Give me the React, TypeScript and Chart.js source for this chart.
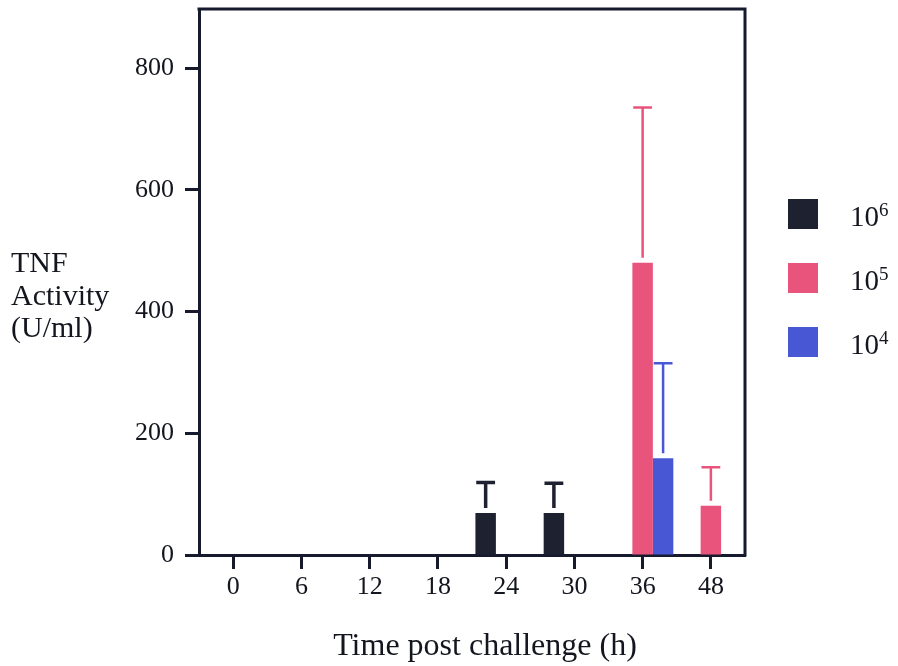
import React, { useEffect, useRef } from "react";
import { Chart, registerables } from "chart.js";

Chart.register(...registerables);

// Sampling times (h) after challenge
const hours = ["0", "6", "12", "18", "24", "30", "36", "48"];
const yTicks = [0, 200, 400, 600, 800];

// Challenge dose labels: 10^exp
const doseBase = ["10", "10", "10"];
const doseExp = ["6", "5", "4"];

// Mean TNF activity (U/ml) and SD per dose group
const dose6Mean = [null, null, null, null, 69, 69, null, null];
const dose6Sd = [null, null, null, null, 50, 49, null, null];
const dose5Mean = [null, null, null, null, null, null, 480, 81];
const dose5Sd = [null, null, null, null, null, null, 255, 63];
const dose4Mean = [null, null, null, null, null, null, 159, null];
const dose4Sd = [null, null, null, null, null, null, 156, null];

const doseColors = ["#1e212f", "#e8547b", "#4858d4"];
const errWidths = [3.5, 2.5, 2.5];

const AXIS = "#161a2c";
const TEXT = "#14161f";
const FONT = "'Liberation Serif', 'Times New Roman', serif";

const errorBars = {
  id: "errorBars",
  afterDatasetsDraw(chart: any) {
    const { ctx } = chart;
    const y = chart.scales.y;
    chart.data.datasets.forEach((ds: any, i: number) => {
      const meta = chart.getDatasetMeta(i);
      meta.data.forEach((bar: any, j: number) => {
        const v = ds.data[j];
        const sd = ds.sd[j];
        if (v == null || sd == null) return;
        const top = y.getPixelForValue(v + sd);
        const half = bar.width * 0.46;
        ctx.save();
        ctx.strokeStyle = ds.backgroundColor;
        ctx.lineWidth = ds.errWidth;
        ctx.beginPath();
        ctx.moveTo(bar.x, bar.y - 5);
        ctx.lineTo(bar.x, top);
        ctx.moveTo(bar.x - half, top);
        ctx.lineTo(bar.x + half, top);
        ctx.stroke();
        ctx.restore();
      });
    });
  },
};

const frameAndText = {
  id: "frameAndText",
  afterDraw(chart: any) {
    const { ctx, chartArea: a } = chart;
    ctx.save();
    // top and right edges of the plot frame
    ctx.strokeStyle = AXIS;
    ctx.lineWidth = 3;
    ctx.beginPath();
    ctx.moveTo(a.left - 1.5, a.top);
    ctx.lineTo(a.right, a.top);
    ctx.lineTo(a.right, a.bottom + 1.5);
    ctx.stroke();

    ctx.fillStyle = TEXT;
    ctx.textBaseline = "alphabetic";

    // y-axis title, stacked horizontally at the left
    ctx.font = `30px ${FONT}`;
    ctx.textAlign = "left";
    ["TNF", "Activity", "(U/ml)"].forEach((line, k) => {
      ctx.fillText(line, 11, a.top + 263 + k * 32.5);
    });

    // x-axis title
    ctx.font = `32px ${FONT}`;
    ctx.textAlign = "center";
    ctx.fillText("Time post challenge (h)", 485, 655);

    // legend
    const lx = a.right + 43;
    chart.data.datasets.forEach((ds: any, i: number) => {
      const top = a.top + 190 + i * 64;
      ctx.fillStyle = ds.backgroundColor;
      ctx.fillRect(lx, top, 30, 30);
      ctx.fillStyle = TEXT;
      ctx.textAlign = "left";
      ctx.font = `29px ${FONT}`;
      const base = doseBase[i];
      ctx.fillText(base, lx + 62, top + 27);
      const w = ctx.measureText(base).width;
      ctx.font = `19px ${FONT}`;
      ctx.fillText(doseExp[i], lx + 62 + w, top + 17);
    });
    ctx.restore();
  },
};

export default function App() {
  const canvasRef = useRef<HTMLCanvasElement>(null);

  useEffect(() => {
    document.body.style.margin = "0";
    const means = [dose6Mean, dose5Mean, dose4Mean];
    const sds = [dose6Sd, dose5Sd, dose4Sd];
    const chart = new Chart(canvasRef.current!, {
      type: "bar",
      data: {
        labels: hours,
        datasets: means.map((m, i) => ({
          label: doseBase[i] + "^" + doseExp[i],
          data: m,
          sd: sds[i],
          errWidth: errWidths[i],
          backgroundColor: doseColors[i],
          borderWidth: 0,
          categoryPercentage: 0.9,
          barPercentage: 1.0,
        })) as any,
      },
      options: {
        animation: false,
        responsive: true,
        maintainAspectRatio: false,
        layout: { padding: { top: 9, right: 153, left: 0, bottom: 0 }, autoPadding: false },
        plugins: {
          legend: { display: false },
          tooltip: { enabled: false },
        },
        scales: {
          x: {
            grid: {
              drawOnChartArea: false,
              offset: false,
              tickLength: 14,
              tickWidth: 3,
              tickColor: AXIS,
            },
            border: { display: true, width: 3, color: AXIS },
            ticks: {
              padding: 3,
              color: TEXT,
              font: { family: FONT, size: 26 },
              maxRotation: 0,
              autoSkip: false,
            },
            afterFit: (s: any) => {
              s.height = 111;
              s.paddingLeft = 0;
              s.paddingRight = 0;
            },
          },
          y: {
            min: 0,
            max: 897,
            afterBuildTicks: (s: any) => {
              s.ticks = yTicks.map((v) => ({ value: v }));
            },
            grid: {
              drawOnChartArea: false,
              tickLength: 14,
              tickWidth: 3,
              tickColor: AXIS,
            },
            border: { display: true, width: 3, color: AXIS },
            ticks: {
              padding: 11,
              color: TEXT,
              font: { family: FONT, size: 26 },
            },
            afterFit: (s: any) => {
              s.width = 199;
              s.paddingTop = 0;
              s.paddingBottom = 0;
            },
          },
        },
      },
      plugins: [errorBars, frameAndText],
    });
    return () => chart.destroy();
  }, []);

  return (
    <div style={{ position: "relative", width: 898, height: 666 }}>
      <canvas ref={canvasRef} />
    </div>
  );
}
